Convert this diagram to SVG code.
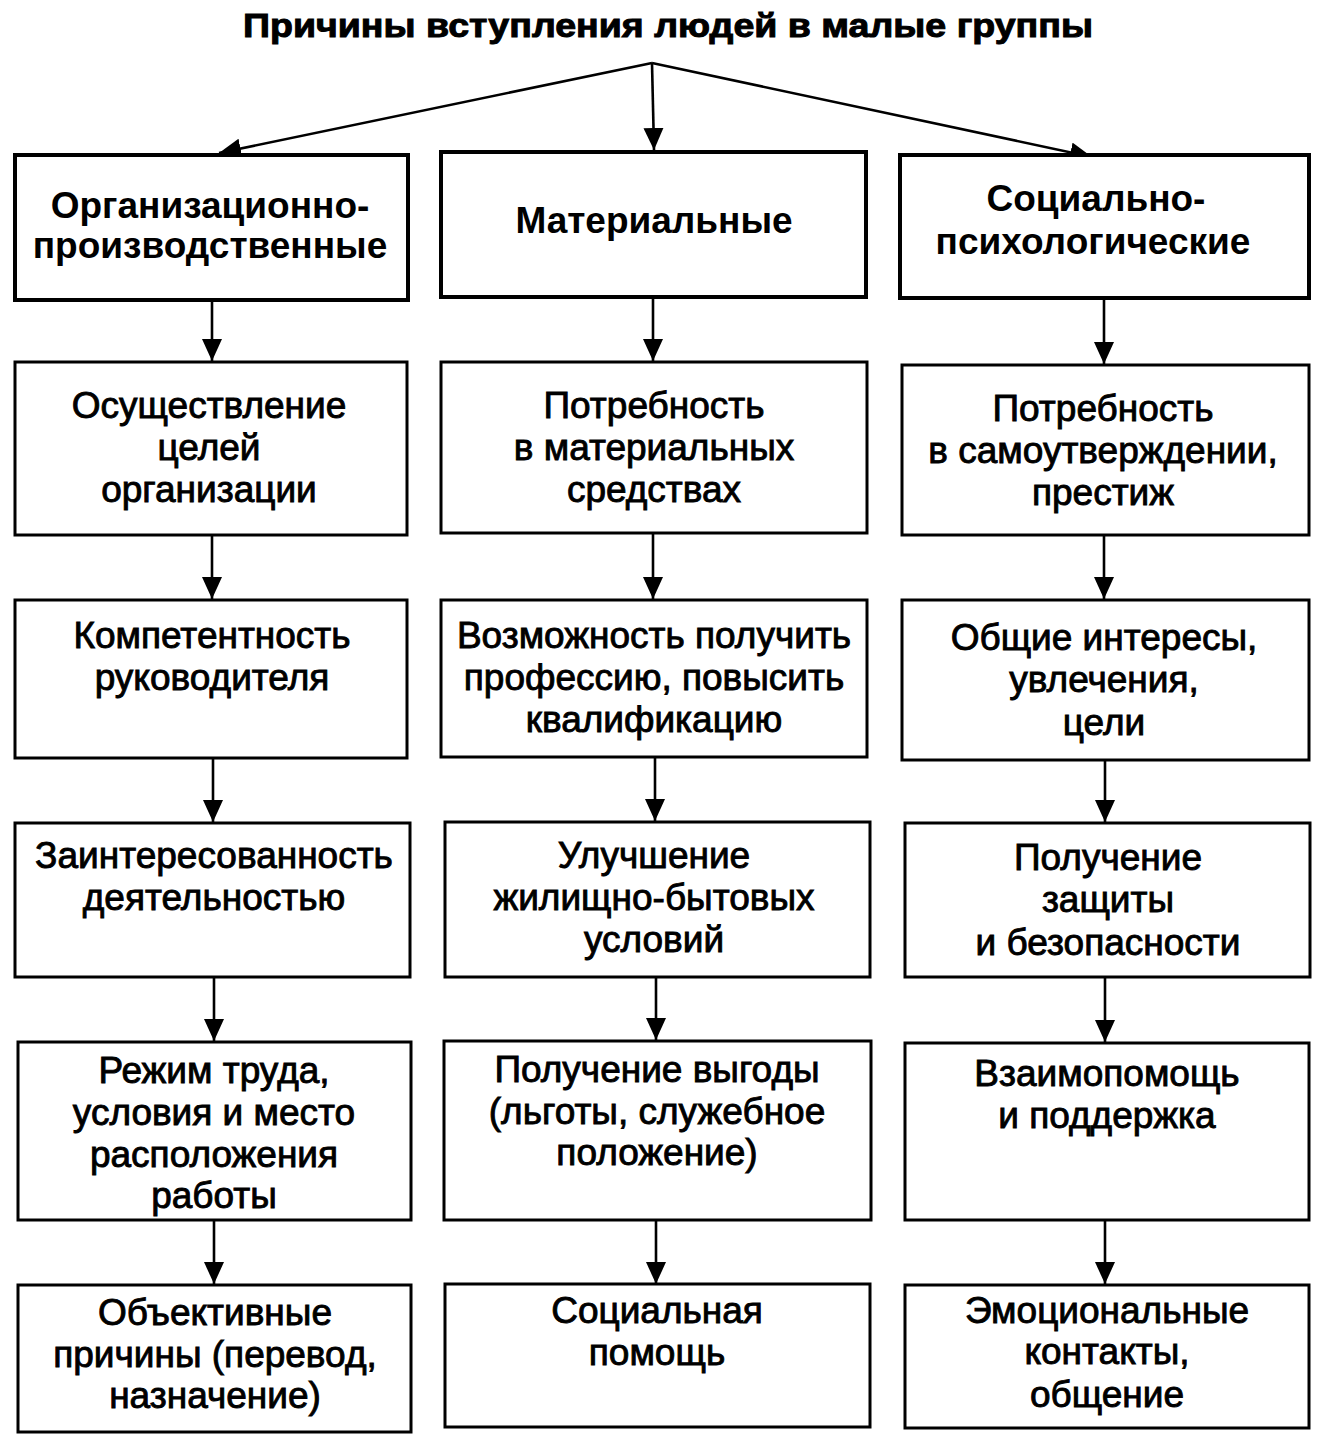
<svg xmlns="http://www.w3.org/2000/svg" width="1329" height="1447" viewBox="0 0 1329 1447">
<style>
  .bg { fill: #ffffff; }
  .box { fill: #ffffff; stroke: #000000; stroke-width: 3; }
  .hbox { fill: #ffffff; stroke: #000000; stroke-width: 4; }
  .t { font-family: "Liberation Sans", Arial, sans-serif; font-size: 37px; fill: #000; stroke: #000; stroke-width: 0.9; text-anchor: middle; }
  .h { font-family: "Liberation Sans", Arial, sans-serif; font-size: 37px; font-weight: bold; fill: #000; text-anchor: middle; }
  .title { font-family: "Liberation Sans", Arial, sans-serif; font-size: 34px; font-weight: bold; fill: #000; stroke: #000; stroke-width: 1; }
  .conn { fill: none; stroke: #000; stroke-width: 2.6; }
</style>
<defs>
  <marker id="arr" viewBox="0 0 22 20" refX="22" refY="10" markerWidth="22" markerHeight="20" markerUnits="userSpaceOnUse" orient="auto">
    <path d="M0,0 L22,10 L0,20 Z" fill="#000"/>
  </marker>
</defs>
<rect class="bg" x="0" y="0" width="1329" height="1447"/>
<text class="title" x="243" y="37" textLength="850" lengthAdjust="spacingAndGlyphs">Причины вступления людей в малые группы</text>

<g id="connectors">
  <line class="conn" x1="652" y1="63" x2="219" y2="153" marker-end="url(#arr)"/>
  <line class="conn" x1="652" y1="63" x2="654" y2="150" marker-end="url(#arr)"/>
  <line class="conn" x1="652" y1="63" x2="1092" y2="157" marker-end="url(#arr)"/>

  <line class="conn" x1="212" y1="300" x2="212" y2="361" marker-end="url(#arr)"/>
  <line class="conn" x1="212" y1="535" x2="212" y2="599" marker-end="url(#arr)"/>
  <line class="conn" x1="213" y1="758" x2="213" y2="822" marker-end="url(#arr)"/>
  <line class="conn" x1="214" y1="977" x2="214" y2="1041" marker-end="url(#arr)"/>
  <line class="conn" x1="214" y1="1220" x2="214" y2="1284" marker-end="url(#arr)"/>

  <line class="conn" x1="653" y1="297" x2="653" y2="361" marker-end="url(#arr)"/>
  <line class="conn" x1="653" y1="533" x2="653" y2="599" marker-end="url(#arr)"/>
  <line class="conn" x1="655" y1="757" x2="655" y2="821" marker-end="url(#arr)"/>
  <line class="conn" x1="656" y1="977" x2="656" y2="1040" marker-end="url(#arr)"/>
  <line class="conn" x1="656" y1="1220" x2="656" y2="1284" marker-end="url(#arr)"/>

  <line class="conn" x1="1104" y1="298" x2="1104" y2="364" marker-end="url(#arr)"/>
  <line class="conn" x1="1104" y1="535" x2="1104" y2="599" marker-end="url(#arr)"/>
  <line class="conn" x1="1105" y1="760" x2="1105" y2="822" marker-end="url(#arr)"/>
  <line class="conn" x1="1105" y1="977" x2="1105" y2="1042" marker-end="url(#arr)"/>
  <line class="conn" x1="1105" y1="1220" x2="1105" y2="1284" marker-end="url(#arr)"/>
</g>

<g id="a1"><rect class="hbox" x="15" y="155" width="393" height="145"/>
  <text class="h" x="210" y="218">Организационно-</text>
  <text class="h" x="210" y="258">производственные</text></g>
<g id="b1"><rect class="hbox" x="441" y="152" width="425" height="145"/>
  <text class="h" x="654" y="233">Материальные</text></g>
<g id="c1"><rect class="hbox" x="900" y="155" width="409" height="143"/>
  <text class="h" x="1096" y="211">Социально-</text>
  <text class="h" x="1093" y="254">психологические</text></g>

<g id="a2"><rect class="box" x="15" y="362" width="392" height="173"/>
  <text class="t" x="209" y="418">Осуществление</text>
  <text class="t" x="209" y="460">целей</text>
  <text class="t" x="209" y="502">организации</text></g>
<g id="b2"><rect class="box" x="441" y="362" width="426" height="171"/>
  <text class="t" x="654" y="418">Потребность</text>
  <text class="t" x="654" y="460">в материальных</text>
  <text class="t" x="654" y="502">средствах</text></g>
<g id="c2"><rect class="box" x="902" y="365" width="407" height="170"/>
  <text class="t" x="1103" y="421">Потребность</text>
  <text class="t" x="1103" y="463">в самоутверждении,</text>
  <text class="t" x="1103" y="505">престиж</text></g>

<g id="a3"><rect class="box" x="15" y="600" width="392" height="158"/>
  <text class="t" x="212" y="648">Компетентность</text>
  <text class="t" x="212" y="690">руководителя</text></g>
<g id="b3"><rect class="box" x="441" y="600" width="426" height="157"/>
  <text class="t" x="654" y="648">Возможность получить</text>
  <text class="t" x="654" y="690">профессию, повысить</text>
  <text class="t" x="654" y="732">квалификацию</text></g>
<g id="c3"><rect class="box" x="902" y="600" width="407" height="160"/>
  <text class="t" x="1104" y="650">Общие интересы,</text>
  <text class="t" x="1104" y="692">увлечения,</text>
  <text class="t" x="1104" y="735">цели</text></g>

<g id="a4"><rect class="box" x="15" y="823" width="395" height="154"/>
  <text class="t" x="214" y="868">Заинтересованность</text>
  <text class="t" x="214" y="910">деятельностью</text></g>
<g id="b4"><rect class="box" x="445" y="822" width="425" height="155"/>
  <text class="t" x="654" y="868">Улучшение</text>
  <text class="t" x="654" y="910">жилищно-бытовых</text>
  <text class="t" x="654" y="952">условий</text></g>
<g id="c4"><rect class="box" x="905" y="823" width="405" height="154"/>
  <text class="t" x="1108" y="870">Получение</text>
  <text class="t" x="1108" y="912">защиты</text>
  <text class="t" x="1108" y="955">и безопасности</text></g>

<g id="a5"><rect class="box" x="18" y="1042" width="393" height="178"/>
  <text class="t" x="214" y="1083">Режим труда,</text>
  <text class="t" x="214" y="1125">условия и место</text>
  <text class="t" x="214" y="1167">расположения</text>
  <text class="t" x="214" y="1208">работы</text></g>
<g id="b5"><rect class="box" x="444" y="1041" width="427" height="179"/>
  <text class="t" x="657" y="1082">Получение выгоды</text>
  <text class="t" x="657" y="1124">(льготы, служебное</text>
  <text class="t" x="657" y="1165">положение)</text></g>
<g id="c5"><rect class="box" x="905" y="1043" width="404" height="177"/>
  <text class="t" x="1107" y="1086">Взаимопомощь</text>
  <text class="t" x="1107" y="1128">и поддержка</text></g>

<g id="a6"><rect class="box" x="18" y="1285" width="393" height="147"/>
  <text class="t" x="215" y="1325">Объективные</text>
  <text class="t" x="215" y="1367">причины (перевод,</text>
  <text class="t" x="215" y="1408">назначение)</text></g>
<g id="b6"><rect class="box" x="445" y="1284" width="425" height="143"/>
  <text class="t" x="657" y="1323">Социальная</text>
  <text class="t" x="657" y="1365">помощь</text></g>
<g id="c6"><rect class="box" x="905" y="1285" width="404" height="143"/>
  <text class="t" x="1107" y="1323">Эмоциональные</text>
  <text class="t" x="1107" y="1364">контакты,</text>
  <text class="t" x="1107" y="1407">общение</text></g>
</svg>
